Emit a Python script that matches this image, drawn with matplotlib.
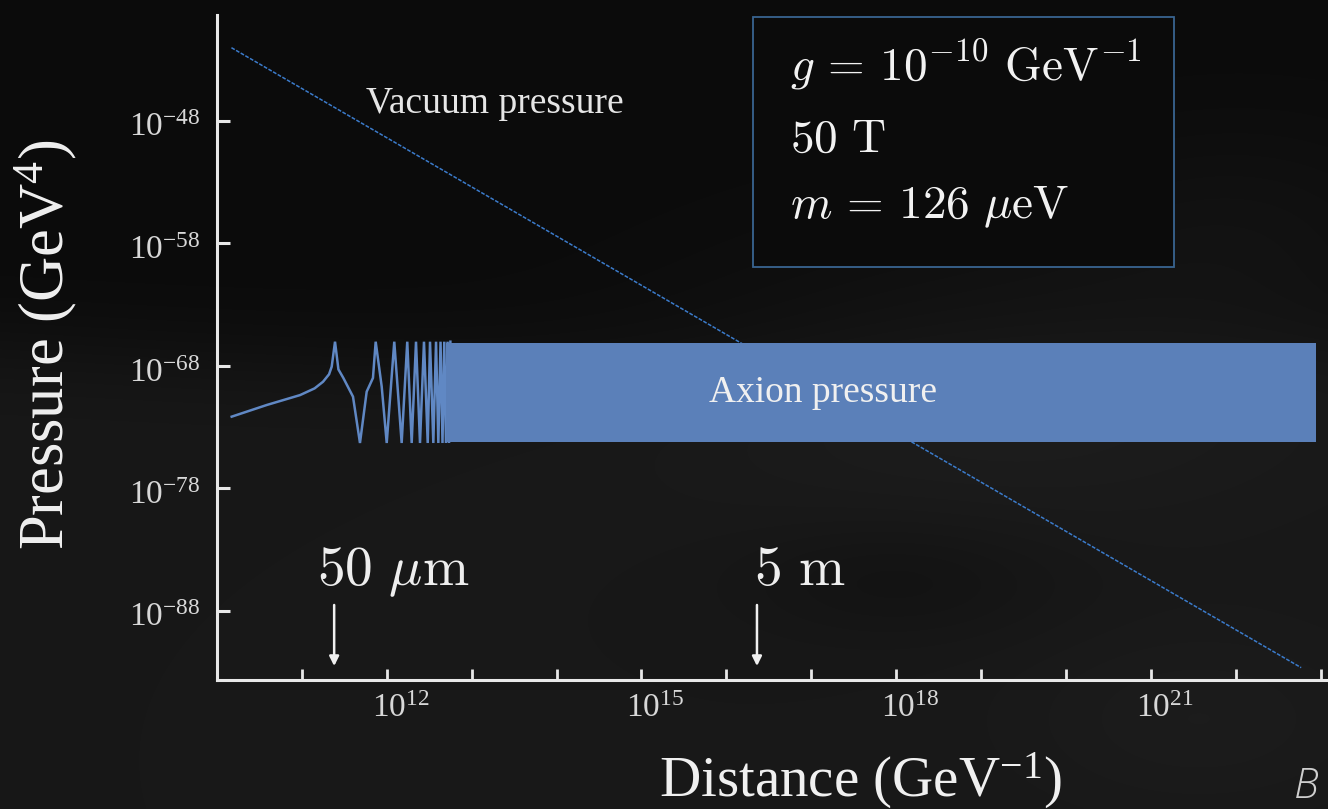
import numpy as np
import matplotlib
matplotlib.use("Agg")
import matplotlib.pyplot as plt
import matplotlib.transforms as mtransforms
from matplotlib.patches import Rectangle
from matplotlib.ticker import NullLocator, FixedLocator, FixedFormatter

# ---------------- data (log10 values) ----------------
vacuum_logL = [10.17, 22.77]
vacuum_logP = [-42.04, -92.65]

axion_logL = [10.173, 10.585, 10.978, 11.150, 11.249, 11.320, 11.351, 11.390, 11.430,
              11.488, 11.602, 11.684, 11.763, 11.837, 11.869, 11.940, 11.999, 12.088,
              12.175, 12.241, 12.293, 12.344, 12.391, 12.438, 12.482, 12.509, 12.548,
              12.580, 12.607, 12.633, 12.656, 12.677, 12.697, 12.716, 12.733, 12.749]
axion_logP = [-72.16, -71.21, -70.40, -69.85, -69.31, -68.70, -68.08, -66.04, -68.30,
              -69.00, -70.53, -74.31, -70.12, -69.00, -66.04, -69.71, -74.31, -66.04,
              -74.31, -66.04, -74.31, -66.04, -74.31, -66.04, -74.31, -66.04, -74.31,
              -66.04, -74.31, -66.04, -74.31, -66.04, -74.31, -66.04, -74.31, -66.04]

band_logL = [12.70, 22.945]
band_logP_top = -66.15
band_logP_bottom = -74.23

marker_logL = [11.38, 16.36]
marker_labels = [r'$50\ \mu\mathrm{m}$', r'$5\ \mathrm{m}$']

xtick_exponents = list(range(11, 24))
xlabel_exponents = [12, 15, 18, 21]
ytick_exponents = [-48, -58, -68, -78, -88]

param_lines = [r'$g\,=\,10^{-10}\ \mathrm{GeV}^{-1}$',
               r'$50\ \mathrm{T}$',
               r'$m\,=\,126\ \mu\mathrm{eV}$']

x_label = r'Distance (GeV$\mathregular{^{-1}}$)'
y_label = r'Pressure (GeV$\mathregular{^{4}}$)'

# ---------------- style ----------------
plt.rcParams['font.family'] = ['Liberation Serif', 'DejaVu Serif']
plt.rcParams['mathtext.fontset'] = 'cm'

W, H = 1328, 809
fig = plt.figure(figsize=(W / 100, H / 100), dpi=100)
fig.patch.set_facecolor('#0c0c0c')


def fx(px):
    return px / W


def fy(py):
    return 1 - py / H


# background (decorative gradient of the slide)
bg = fig.add_axes([0, 0, 1, 1], zorder=0)
yy, xx = np.mgrid[0:1:405j, 0:1:664j]
ypx = yy * H
xpx = xx * W
edge = 345 + 25 * np.sin(xx * 3.0)
v = 11 + 13 / (1 + np.exp(-(ypx - edge) / 28))
v += 7 * np.exp(-(((xpx - 1000) / 330) ** 2 + ((ypx - 360) / 150) ** 2))
v += 5 * np.exp(-(((xpx - 1250) / 200) ** 2 + ((ypx - 230) / 120) ** 2))
v -= 5 * np.exp(-(((xpx - 900) / 160) ** 2 + ((ypx - 580) / 60) ** 2))
v += 4 * np.exp(-(((xpx - 1200) / 180) ** 2 + ((ypx - 720) / 90) ** 2))
v = np.clip(v, 0, 255) / 255.0
img = np.dstack([v, v, v])
bg.imshow(img, extent=[0, 1, 0, 1], aspect='auto', interpolation='bilinear')
bg.set_axis_off()

# main axes: spine corner at (217, 680), top at 15, right runs off the picture
ax_left, ax_right, ax_top, ax_bottom = 217, W, 15, 680
ax = fig.add_axes([fx(ax_left), fy(ax_bottom), fx(ax_right - ax_left),
                   (ax_bottom - ax_top) / H], zorder=1)
ax.set_facecolor('none')
ax.set_xscale('log')
ax.set_yscale('log')
ax.set_xlim(10.0 ** 10, 10.0 ** (10 + (ax_right - ax_left) / 84.9))
ax.set_ylim(10.0 ** (-48 - (ax_bottom - 120.7) / 12.25),
            10.0 ** (-48 + (120.7 - ax_top) / 12.25))

line_blue = '#3b7bcb'
band_blue = '#5b80b9'

ax.plot(10.0 ** np.array(vacuum_logL), 10.0 ** np.array(vacuum_logP),
        color=line_blue, lw=1.1, ls=(0, (2.5, 1.0)), zorder=2)

ax.plot(10.0 ** np.array(axion_logL), 10.0 ** np.array(axion_logP),
        color='#6088c4', lw=1.8, zorder=3, solid_joinstyle='miter')
ax.fill_between(10.0 ** np.array(band_logL), 10.0 ** band_logP_top,
                10.0 ** band_logP_bottom, color=band_blue, lw=0, zorder=3)

# spines / ticks
for s in ['top', 'right']:
    ax.spines[s].set_visible(False)
for s in ['left', 'bottom']:
    ax.spines[s].set_color('#e8e8e8')
    ax.spines[s].set_linewidth(2.2)

ax.xaxis.set_major_locator(FixedLocator([10.0 ** e for e in xtick_exponents]))
ax.xaxis.set_major_formatter(FixedFormatter(
    [r'$\mathregular{10^{%d}}$' % e if e in xlabel_exponents else '' for e in xtick_exponents]))
ax.yaxis.set_major_locator(FixedLocator([10.0 ** e for e in ytick_exponents]))
ax.yaxis.set_major_formatter(FixedFormatter(
    [r'$\mathregular{10^{%d}}$' % e for e in ytick_exponents]))
ax.xaxis.set_minor_locator(NullLocator())
ax.yaxis.set_minor_locator(NullLocator())
ax.tick_params(axis='x', direction='in', length=8, width=2.0, color='#e8e8e8',
               labelcolor='#d8d8d8', labelsize=24, pad=10)
ax.tick_params(axis='y', direction='in', length=9.5, width=2.2, color='#e8e8e8',
               labelcolor='#d8d8d8', labelsize=24, pad=12)
off_x = mtransforms.ScaledTranslation(14 / 100, 0, fig.dpi_scale_trans)
for lab in ax.get_xticklabels():
    lab.set_transform(lab.get_transform() + off_x)
off_y = mtransforms.ScaledTranslation(0, -4 / 100, fig.dpi_scale_trans)
for lab in ax.get_yticklabels():
    lab.set_transform(lab.get_transform() + off_y)

# curve labels
ax.text(fx(495), fy(113), 'Vacuum pressure', transform=fig.transFigure,
        ha='center', va='baseline', fontsize=27, color='#e6e6e6', zorder=5)
ax.text(fx(823), fy(402), 'Axion pressure', transform=fig.transFigure,
        ha='center', va='baseline', fontsize=27, color='#f0f0f0', zorder=5)

# distance markers with arrows
arrow_top, arrow_tip, label_base = 0.1128, 0.021, 0.1429
label_dx = [-17, -3]
for L, lab, dx in zip(marker_logL, marker_labels, label_dx):
    ax.annotate('', xy=(10.0 ** L, arrow_tip), xycoords=('data', 'axes fraction'),
                xytext=(10.0 ** L, arrow_top), textcoords=('data', 'axes fraction'),
                arrowprops=dict(arrowstyle='-|>', color='#f0f0f0', lw=1.8,
                                mutation_scale=14, shrinkA=0, shrinkB=0), zorder=5)
    ax.annotate(lab, xy=(10.0 ** L, label_base), xycoords=('data', 'axes fraction'),
                xytext=(dx, 0), textcoords='offset pixels', ha='left', va='baseline',
                fontsize=40, color='#eeeeee', zorder=5, annotation_clip=False)

# parameter box
box = Rectangle((fx(753), fy(267)), fx(1174 - 753), (267 - 17) / H,
                transform=fig.transFigure, facecolor='#0b0b0b', edgecolor='#3d6c9c',
                lw=1.3, alpha=0.92, clip_on=False, zorder=6)
ax.add_patch(box)
for txt, base in zip(param_lines, [80, 152, 218]):
    ax.text(fx(790), fy(base), txt, transform=fig.transFigure, ha='left',
            va='baseline', fontsize=34, color='#f2f2f2', zorder=7)

# axis labels
fig.text(fx(860), fy(797), x_label, ha='center', va='baseline', fontsize=41,
         color='#f0f0f0')
fig.text(fx(46), fy(345), y_label, ha='center', va='center', rotation=90,
         fontsize=45, color='#f0f0f0')

# slide text in the corner
fig.text(fx(1294), fy(798), 'B', ha='left', va='baseline', fontsize=30,
         style='italic', family=['Open Sans', 'DejaVu Sans'], fontweight='light',
         color='#cfcfcf')

fig.savefig('out.png', dpi=100, facecolor=fig.get_facecolor())
